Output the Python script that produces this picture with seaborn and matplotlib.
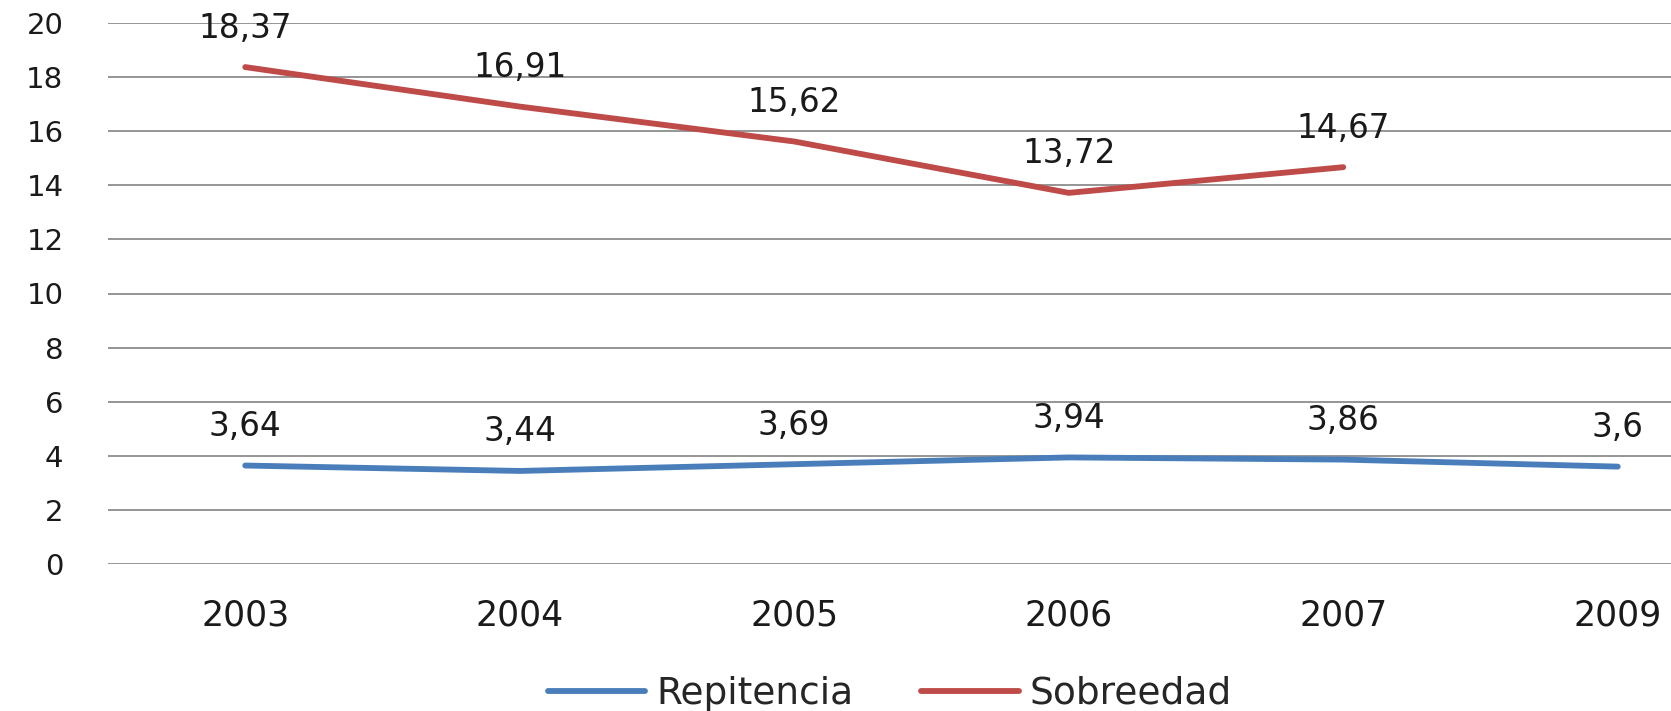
import pandas as pd
import numpy as np
import matplotlib
matplotlib.use('Agg')
import matplotlib.pyplot as plt
import seaborn as sns

# datos
years = ['2003', '2004', '2005', '2006', '2007', '2009']
repitencia = [3.64, 3.44, 3.69, 3.94, 3.86, 3.6]
sobreedad = [18.37, 16.91, 15.62, 13.72, 14.67, np.nan]
series_names = ['Repitencia', 'Sobreedad']
colors = ['#4A7EBB', '#BE4B48']
y_ticks = list(range(0, 21, 2))

df = pd.DataFrame({'year': years * 2,
                   'valor': repitencia + sobreedad,
                   'serie': [series_names[0]] * len(years) + [series_names[1]] * len(years)})

sns.set_style('white')
plt.rcParams['font.family'] = ['DejaVu Sans']

W, H = 1671, 711
fig = plt.figure(figsize=(W / 100, H / 100), dpi=100)
# el area del grafico se sale por la derecha, como en la imagen original
ax = fig.add_axes([108 / W, (H - 564) / H, 1647 / W, 541 / H])

sns.lineplot(data=df, x='year', y='valor', hue='serie', palette=colors,
             linewidth=4.2, ax=ax, legend=False, sort=False,
             solid_capstyle='round')

ax.set_xlim(-0.5, len(years) - 0.5)
ax.set_ylim(0, 20)
ax.set_yticks(y_ticks)
ax.yaxis.grid(True, color='#8c8c8c', linewidth=1.3)
ax.set_axisbelow(True)
for s in ax.spines.values():
    s.set_visible(False)
ax.tick_params(axis='y', length=0, pad=32, labelsize=21, labelcolor='#1a1a1a')
ax.tick_params(axis='x', length=0, pad=25, labelsize=25, labelcolor='#1a1a1a')
ax.set_xlabel('')
ax.set_ylabel('')

# etiquetas de datos
for vals in [repitencia, sobreedad]:
    for i, v in enumerate(vals):
        if pd.isna(v):
            continue
        txt = f'{v:g}'.replace('.', ',')
        ax.annotate(txt, (i, v), xytext=(0, 39), textcoords='offset pixels',
                    ha='center', va='center', fontsize=23.5, color='#1a1a1a')

handles = [plt.Line2D([], [], color=c, linewidth=4.2, solid_capstyle='round') for c in colors]
fig.legend(handles, series_names, loc='center', bbox_to_anchor=(890 / W, 17 / H),
           ncol=2, frameon=False, prop={'family': 'DejaVu Sans', 'size': 27},
           handlelength=2.6, handletextpad=0.3, columnspacing=1.8, borderpad=0)

fig.savefig('out.png', dpi=100)
